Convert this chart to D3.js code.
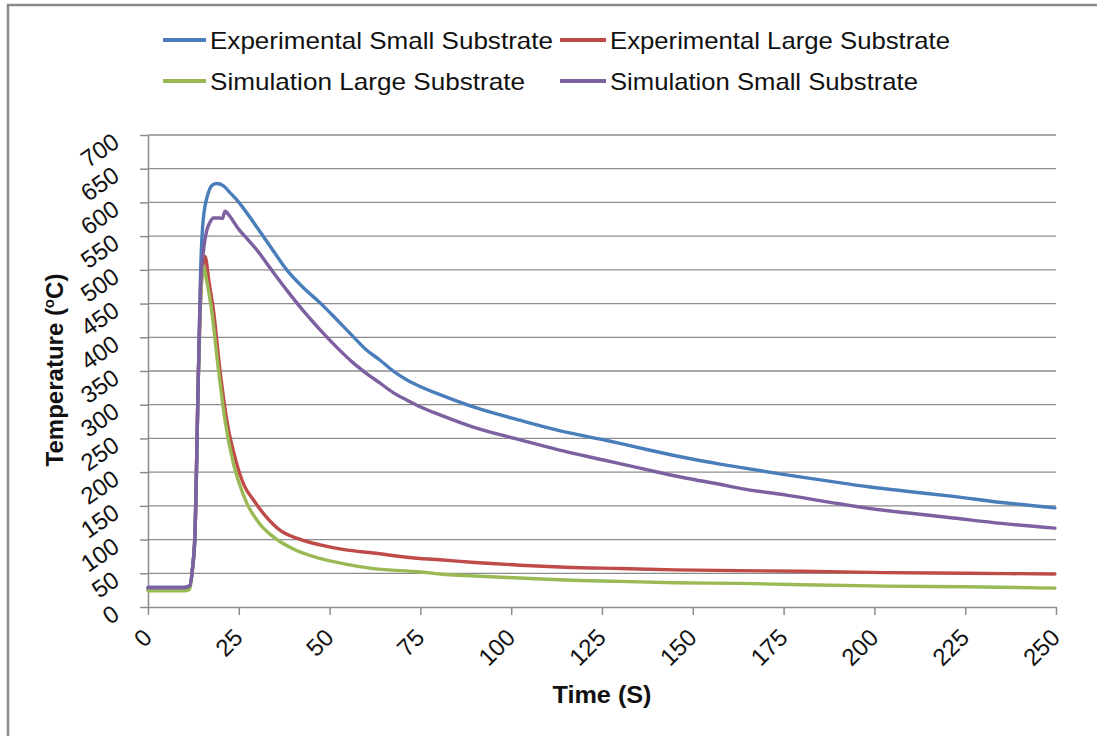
<!DOCTYPE html>
<html lang="en">
<head>
<meta charset="UTF-8">
<title>Temperature vs Time</title>
<script src="https://d3js.org/d3.v7.min.js"></script>
<style>
    body { margin: 0; padding: 0; background: #fff; }
    svg { display: block; font-family: "Liberation Sans", Arial, sans-serif; }
    .grid line { stroke: #8c8c8c; stroke-width: 1.3px; }
    .axis path, .axis line { stroke: #8c8c8c; stroke-width: 1.5px; }
    .axis text { font-size: 24px; fill: #111; }
    .series { fill: none; stroke-width: 3.4px; stroke-linejoin: round; stroke-linecap: round; }
</style>
</head>
<body>
<svg width="1097" height="736"></svg>
<script>
// values: [time (s), temperature (°C)]
const expSmall = [
    [0, 29], [5, 29], [10, 29], [11.4, 31], [12.3, 60], [12.9, 104], [13.9, 352], [14.5, 500],
    [15.2, 574], [16.6, 614], [17.8, 626], [18.9, 628], [20.7, 625], [22.5, 615], [24.4, 604],
    [27, 586], [29.9, 564], [34, 532], [38.2, 500], [42.5, 475], [47.4, 451], [52, 426],
    [56.5, 401], [60, 382], [63.9, 366], [67.5, 350], [71.2, 337], [74.9, 327], [80.4, 315],
    [90, 296], [102.4, 277], [113, 262], [125.4, 248], [137, 234], [148.3, 221], [157.5, 212],
    [163, 207], [175.8, 196], [187, 187], [198.8, 178], [210, 171], [221.7, 164], [235, 155],
    [249.7, 147]
];
const expLarge = [
    [0, 26], [5, 26], [10, 26], [11.4, 28], [12.3, 60], [12.9, 104], [13.9, 352], [14.6, 470],
    [15.7, 520], [16.8, 482], [18, 441], [19.8, 352], [21.7, 277], [24.4, 213], [26.5, 180],
    [29, 159], [32.5, 134], [36.3, 114], [41.5, 101], [47.4, 92], [54, 85], [62, 80],
    [74.9, 72], [80.4, 70], [90, 66], [102.4, 62], [115, 59], [130, 57], [145, 55],
    [163, 54], [180, 53], [203, 51], [225, 50], [249.7, 49]
];
const simLarge = [
    [0, 24], [5, 24], [10, 24], [11.4, 26], [12.3, 58], [12.9, 102], [13.9, 350], [14.6, 470],
    [15.2, 505], [16.3, 480], [17.5, 441], [19.4, 352], [21.2, 277], [23.5, 213], [25.2, 182],
    [27.2, 154], [30.5, 125], [34.5, 104], [40, 86], [47.4, 72], [54, 64], [62, 57],
    [74.9, 52], [80.4, 49], [90, 46], [102.4, 43], [115, 40], [130, 38], [145, 36],
    [163, 35], [180, 33], [203, 31], [225, 30], [249.7, 28]
];
const simSmall = [
    [0, 29], [5, 29], [10, 29], [11.4, 31], [12.3, 60], [12.9, 104], [13.9, 352], [14.5, 480],
    [15.2, 525], [16.2, 559], [17, 570], [18, 577], [19.8, 577], [20.5, 576], [21.2, 587],
    [22.6, 579], [25, 560], [27.5, 545], [29.9, 530], [34, 500], [38.2, 470], [42.5, 441],
    [47.4, 411], [52, 385], [56.5, 362], [60, 347], [63.9, 332], [67.5, 318], [71.2, 307],
    [74.9, 297], [80.4, 285], [90, 266], [102.4, 248], [113, 233], [125.4, 218], [137, 204],
    [148.3, 191], [157.5, 182], [163, 176], [175.8, 166], [187, 156], [198.8, 146],
    [210, 139], [221.7, 132], [235, 124], [249.7, 117]
];

const seriesNames = ["Experimental Small Substrate", "Experimental Large Substrate",
                     "Simulation Large Substrate", "Simulation Small Substrate"];
const seriesColors = ["#4a7ebb", "#be4b48", "#98b954", "#7d60a0"];
const seriesData = [expSmall, expLarge, simLarge, simSmall];

const xTicks = d3.range(0, 251, 25);
const yTicks = d3.range(0, 701, 50);

const svg = d3.select("svg");

// outer frame (only top and left edges are inside the picture)
svg.append("path")
    .attr("d", "M8,740 L8,5 L1100,5")
    .attr("fill", "none")
    .attr("stroke", "#8a8a8a")
    .attr("stroke-width", 2.5);

const x = d3.scaleLinear().domain([0, 250]).range([148, 1056]);
const y = d3.scaleLinear().domain([0, 700]).range([607, 135]);

// horizontal gridlines
svg.append("g")
    .attr("class", "grid")
    .selectAll("line")
    .data(yTicks.filter(d => d > 0))
    .enter().append("line")
    .attr("x1", x(0)).attr("x2", x(250))
    .attr("y1", d => y(d)).attr("y2", d => y(d));

// y axis
const yAxis = svg.append("g")
    .attr("class", "axis")
    .attr("transform", `translate(${x(0)},0)`)
    .call(d3.axisLeft(y).tickValues(yTicks).tickSize(8).tickSizeOuter(0));
yAxis.selectAll("text")
    .attr("text-anchor", "end")
    .attr("dy", null)
    .attr("x", 0).attr("y", 0)
    .attr("transform", "translate(-27,10) rotate(-35)");

// x axis
const xAxis = svg.append("g")
    .attr("class", "axis")
    .attr("transform", `translate(0,${y(0)})`)
    .call(d3.axisBottom(x).tickValues(xTicks).tickSize(8).tickSizeOuter(0));
xAxis.selectAll("text")
    .attr("text-anchor", "end")
    .attr("dy", null)
    .attr("x", 0).attr("y", 0)
    .attr("transform", "translate(5,32) rotate(-45)");

// series
const line = d3.line()
    .x(d => x(d[0]))
    .y(d => y(d[1]))
    .curve(d3.curveMonotoneX);
const order = [1, 2, 0, 3];
svg.append("g")
    .selectAll("path")
    .data(order)
    .enter().append("path")
    .attr("class", "series")
    .attr("stroke", i => seriesColors[i])
    .attr("d", i => line(seriesData[i]));

// axis titles
svg.append("text")
    .attr("x", 602).attr("y", 703)
    .attr("text-anchor", "middle")
    .attr("font-weight", "bold")
    .attr("font-size", 24)
    .attr("fill", "#111")
    .attr("textLength", 99)
    .attr("lengthAdjust", "spacingAndGlyphs")
    .text("Time (S)");

const yTitle = svg.append("text")
    .attr("transform", "translate(63,370) rotate(-90)")
    .attr("text-anchor", "middle")
    .attr("font-weight", "bold")
    .attr("font-size", 24)
    .attr("fill", "#111");
yTitle.append("tspan").text("Temperature (");
yTitle.append("tspan").attr("font-size", 15).attr("dy", -9).text("o");
yTitle.append("tspan").attr("dy", 9).text("C)");

// legend
const legendPos = [[163, 40], [563, 40], [163, 81], [563, 81]];
const legendWidths = [343, 340, 315, 308];
const legend = svg.append("g")
    .selectAll("g")
    .data(seriesNames)
    .enter().append("g")
    .attr("transform", (d, i) => `translate(${legendPos[i][0]},${legendPos[i][1]})`);
legend.append("line")
    .attr("x1", (d, i) => i % 2 ? -3 : 0).attr("x2", 43)
    .attr("stroke", (d, i) => seriesColors[i])
    .attr("stroke-width", 3.8);
legend.append("text")
    .attr("x", 47).attr("dy", "0.36em")
    .attr("font-size", 24)
    .attr("fill", "#111")
    .attr("textLength", (d, i) => legendWidths[i])
    .attr("lengthAdjust", "spacingAndGlyphs")
    .text(d => d);
</script>
</body>
</html>
